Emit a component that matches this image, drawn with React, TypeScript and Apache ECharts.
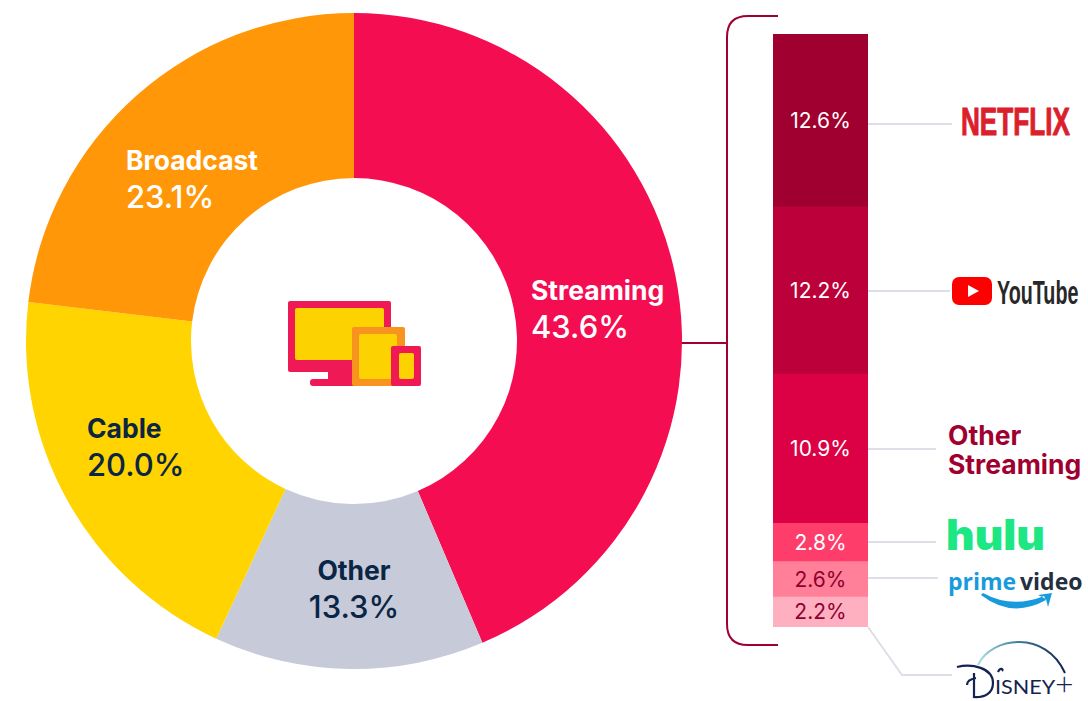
import React, { useEffect, useRef } from "react";
import * as echarts from "echarts";

const mixNames = ["Streaming", "Other", "Cable", "Broadcast"];
const mixValues = [43.6, 13.3, 20.0, 23.1];
const streamingNames = ["Netflix", "YouTube", "Other Streaming", "Hulu", "Prime Video", "Disney+"];
const streamingValues = [12.6, 12.2, 10.9, 2.8, 2.6, 2.2];

const mixColors = ["#F50D52", "#C7CBD9", "#FFD400", "#FF9708"];
const mixText = ["#FFFFFF", "#0B2545", "#0B2545", "#FFFFFF"];
const mixLabelPos: [number, number, string][] = [
  [531, 308, "left"],
  [354, 588, "center"],
  [87, 446.5, "left"],
  [126, 178.5, "left"],
];
const barColors = ["#A00030", "#BC0039", "#DC0045", "#FF3D6B", "#FF8098", "#FFB0C0"];
const barText = ["#FFFFFF", "#FFFFFF", "#FFFFFF", "#FFFFFF", "#8E0030", "#8E0030"];

const FONT = "Inter, sans-serif";
const SANS = '"Liberation Sans", sans-serif';
const DARK = "#A00030";
const GREY = "#DDDFE8";
const NAVY = "#14234F";

echarts.graphic.registerShape(
  "bracket",
  echarts.graphic.extendPath(
    "M778 16 H748 Q727 16 727 37 V624 Q727 645 748 645 H778 M681 343 H727",
    {}
  )
);
echarts.graphic.registerShape(
  "primeSmile",
  echarts.graphic.extendPath(
    "M981 595 Q1012 619 1046 600 L1044 596 Q1012 609 983 593 Z M1038 595 L1052 593 L1048 607 L1046 599 Z",
    {}
  )
);
echarts.graphic.registerShape(
  "disneyArc",
  echarts.graphic.extendPath("M978 665 C992 636 1046 630 1065 673", {})
);
echarts.graphic.registerShape(
  "disneySwirl",
  echarts.graphic.extendPath(
    "M957 667 C972 663 993 668 993 683 C993 693 985 698 973 697 M974 673 L974 698 M967 685 C967 681 970 679 976 678 M998 672 C1000 667 1004 669 1002 671",
    {}
  )
);

const rect = (x: number, y: number, w: number, h: number, r: number, fill: string) => ({
  type: "rect",
  shape: { x, y, width: w, height: h, r },
  style: { fill },
});
const line = (pts: number[][]) => ({
  type: "polyline",
  shape: { points: pts },
  style: { stroke: GREY, lineWidth: 2, fill: "none" },
});
const label = (text: string, x: number, y: number, font: string, fill: string, scaleX = 1, bold = 0) => ({
  type: "text",
  x,
  y,
  scaleX,
  style: {
    text,
    x: 0,
    y: 0,
    font,
    fill,
    textAlign: "left",
    textVerticalAlign: "middle",
    ...(bold ? { stroke: fill, lineWidth: bold } : {}),
  },
});

const graphics: any[] = [
  { type: "bracket", style: { stroke: DARK, lineWidth: 2, fill: "none" } },
  line([[868, 124], [952, 124]]),
  line([[868, 291], [950, 291]]),
  line([[868, 449], [936, 449]]),
  line([[868, 542], [936, 542]]),
  line([[868, 578], [938, 578]]),
  line([[868, 627], [902, 675], [952, 675]]),
  // centre icon
  rect(288, 301, 103, 71, 2, "#EF1A55"),
  rect(295, 308, 89, 52, 2, "#FCD200"),
  rect(328, 370, 30, 10, 0, "#EF1A55"),
  rect(310, 379, 56, 7, 3, "#EF1A55"),
  rect(352, 327, 53, 59, 2, "#F7931E"),
  rect(359, 334, 38, 45, 2, "#FCD200"),
  rect(391, 346, 30, 40, 2, "#EF1A55"),
  rect(399, 353, 15, 26, 2, "#FCD200"),
  // netflix
  label("NETFLIX", 961, 121, `bold 39px ${SANS}`, "#DB202C", 0.67, 1),
  // youtube
  rect(952, 277, 40, 28, 7, "#FF0000"),
  { type: "polygon", shape: { points: [[968, 285], [979, 291], [968, 297]] }, style: { fill: "#FFFFFF" } },
  label("YouTube", 997, 292, `bold 34px ${SANS}`, "#282828", 0.58),
  // other streaming
  label("Other", 948, 435, `700 26.5px ${FONT}`, DARK),
  label("Streaming", 948, 464, `700 26.5px ${FONT}`, DARK),
  // hulu
  label("hulu", 946, 534, `900 42px ${FONT}`, "#1CE783", 1.05),
  // prime video
  label("prime", 948, 581, `700 23px "Open Sans", sans-serif`, "#189BDC"),
  label("video", 1020, 581, `700 23px "Open Sans", sans-serif`, "#232F3E"),
  { type: "primeSmile", style: { fill: "#189BDC" } },
  // disney+
  {
    type: "disneyArc",
    style: {
      fill: "none",
      lineWidth: 2,
      stroke: new echarts.graphic.LinearGradient(0, 0, 1, 0, [
        { offset: 0, color: "#A8DDE6" },
        { offset: 0.45, color: "#3F7FA0" },
        { offset: 1, color: "#14234F" },
      ]),
    },
  },
  { type: "disneySwirl", style: { stroke: NAVY, lineWidth: 2.2, fill: "none" } },
  label("ISNEY", 995, 686, `400 20px Lato, sans-serif`, NAVY, 1.08),
  label("+", 1055, 682, `300 32px Lato, sans-serif`, NAVY),
];

// Running totals: colour layers overlap from the longest to the shortest, so no seam shows between segments.
const runningTotals = streamingValues.map((_, i) =>
  streamingValues.slice(0, i + 1).reduce((a, b) => a + b, 0)
);

export default function App() {
  const ref = useRef<HTMLDivElement>(null);
  useEffect(() => {
    const chart = echarts.init(ref.current!, null, { renderer: "svg" });
    chart.setOption({
      animation: false,
      textStyle: { fontFamily: FONT },
      grid: { left: 773, top: 34, width: 95, height: 593, containLabel: false },
      xAxis: { type: "category", data: ["Streaming"], show: false },
      yAxis: {
        type: "value",
        inverse: true,
        min: 0,
        max: runningTotals[runningTotals.length - 1],
        show: false,
      },
      graphic: graphics,
      series: [
        {
          type: "pie",
          center: [354, 341],
          radius: [163, 328],
          startAngle: 90,
          clockwise: true,
          silent: true,
          data: mixNames.map((name, i) => ({
            name,
            value: mixValues[i],
            itemStyle: { color: mixColors[i] },
            label: {
              show: true,
              position: "inside",
              formatter: `{n|${name}}\n{v|${mixValues[i].toFixed(1)}%}`,
              rich: {
                n: { fontFamily: FONT, fontWeight: 700, fontSize: 26.5, color: mixText[i], lineHeight: 36.5, align: mixLabelPos[i][2] },
                v: { fontFamily: FONT, fontWeight: 500, fontSize: 31, color: mixText[i], lineHeight: 36.5, align: mixLabelPos[i][2] },
              },
            },
          })),
          labelLine: { show: false },
          labelLayout: (p: any) => ({
            x: mixLabelPos[p.dataIndex][0],
            y: mixLabelPos[p.dataIndex][1],
            align: mixLabelPos[p.dataIndex][2],
            verticalAlign: "middle",
          }),
        },
        ...streamingNames
          .map((name, i) => ({
            type: "bar",
            name: `${name} layer`,
            barWidth: 95,
            barGap: "-100%",
            silent: true,
            data: [runningTotals[i]],
            itemStyle: { color: barColors[i] },
          }))
          .reverse(),
        ...streamingNames.map((name, i) => ({
          type: "bar",
          name,
          stack: "s",
          barWidth: 95,
          barGap: "-100%",
          silent: true,
          data: [streamingValues[i]],
          itemStyle: { color: "transparent" },
          label: {
            show: true,
            position: "inside",
            formatter: `${streamingValues[i].toFixed(1)}%`,
            color: barText[i],
            fontFamily: FONT,
            fontSize: 21,
          },
        })),
      ],
    });
    return () => chart.dispose();
  }, []);
  return <div ref={ref} style={{ position: "fixed", left: 0, top: 0, width: 1088, height: 701, background: "#fff" }} />;
}
